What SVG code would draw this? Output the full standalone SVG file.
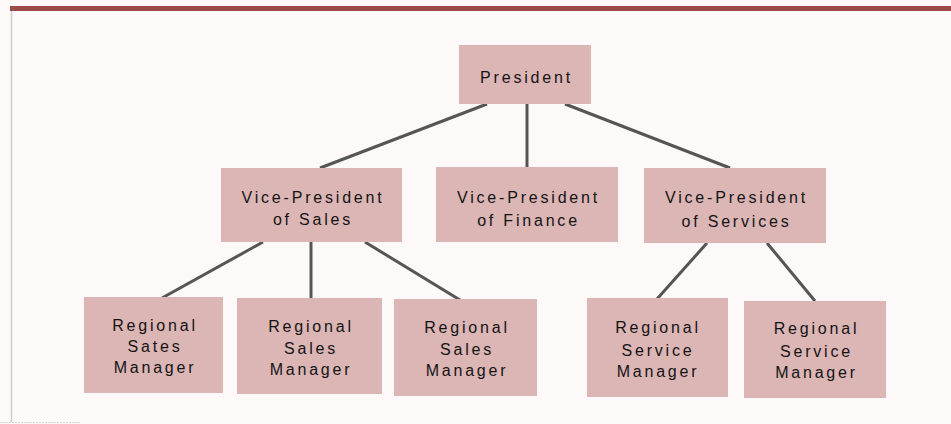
<svg xmlns="http://www.w3.org/2000/svg" width="951" height="424" viewBox="0 0 951 424">
  <style>
    .box { fill: #dcb5b5; }
    .lbl { font-family: "Liberation Sans", Arial, sans-serif; font-size: 16px; letter-spacing: 2.8px; fill: #141414; text-anchor: middle; }
    .conn line { stroke: #555555; stroke-width: 3; stroke-linecap: butt; }
  </style>
  <rect x="0" y="0" width="951" height="424" fill="#fdf9f9"/>
  <rect x="10" y="6" width="941" height="5" fill="#9c4a48"/>
  <line x1="11.5" y1="11" x2="11.5" y2="422" stroke="#d2cccc" stroke-width="1.5"/>
  <line x1="0" y1="422.5" x2="80" y2="422.5" stroke="#d6d0d0" stroke-width="1" stroke-dasharray="2 1"/>

  <g id="connectors" class="conn">
    <line x1="487" y1="104" x2="320" y2="168"/>
    <line x1="527" y1="104" x2="527" y2="168"/>
    <line x1="565" y1="104" x2="730" y2="168"/>
    <line x1="263" y1="242" x2="162" y2="298"/>
    <line x1="311" y1="242" x2="311" y2="299"/>
    <line x1="365" y1="242" x2="460" y2="300"/>
    <line x1="707" y1="243" x2="657" y2="299"/>
    <line x1="767" y1="243" x2="815" y2="301"/>
  </g>

  <g id="president">
    <rect class="box" x="459" y="45" width="132" height="59"/>
    <text class="lbl" x="526.5" y="83">President</text>
  </g>

  <g id="vp-sales">
    <rect class="box" x="221" y="168" width="181" height="74"/>
    <text class="lbl" x="313" y="203">Vice-President</text>
    <text class="lbl" x="313" y="225">of  Sales</text>
  </g>

  <g id="vp-finance">
    <rect class="box" x="436" y="167" width="182" height="75"/>
    <text class="lbl" x="528.5" y="203">Vice-President</text>
    <text class="lbl" x="528.5" y="226">of  Finance</text>
  </g>

  <g id="vp-services">
    <rect class="box" x="644" y="168" width="182" height="75"/>
    <text class="lbl" x="736.5" y="203">Vice-President</text>
    <text class="lbl" x="736.5" y="227">of  Services</text>
  </g>

  <g id="rsm-1">
    <rect class="box" x="84" y="297" width="139" height="96"/>
    <text class="lbl" x="155" y="331">Regional</text>
    <text class="lbl" x="155" y="352">Sates</text>
    <text class="lbl" x="155" y="373">Manager</text>
  </g>

  <g id="rsm-2">
    <rect class="box" x="237" y="298" width="145" height="96"/>
    <text class="lbl" x="311" y="332">Regional</text>
    <text class="lbl" x="311" y="354">Sales</text>
    <text class="lbl" x="311" y="375">Manager</text>
  </g>

  <g id="rsm-3">
    <rect class="box" x="394" y="299" width="143" height="97"/>
    <text class="lbl" x="467" y="333">Regional</text>
    <text class="lbl" x="467" y="355">Sales</text>
    <text class="lbl" x="467" y="376">Manager</text>
  </g>

  <g id="rsvc-1">
    <rect class="box" x="587" y="298" width="141" height="99"/>
    <text class="lbl" x="658" y="333">Regional</text>
    <text class="lbl" x="658" y="356">Service</text>
    <text class="lbl" x="658" y="377">Manager</text>
  </g>

  <g id="rsvc-2">
    <rect class="box" x="744" y="301" width="142" height="97"/>
    <text class="lbl" x="816.5" y="334">Regional</text>
    <text class="lbl" x="816.5" y="357">Service</text>
    <text class="lbl" x="816.5" y="378">Manager</text>
  </g>
</svg>
